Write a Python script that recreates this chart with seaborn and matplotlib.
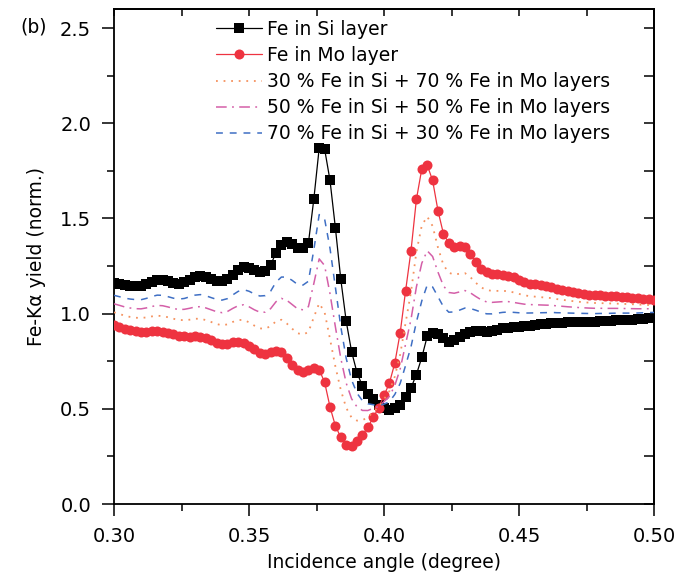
import numpy as np
import pandas as pd
import matplotlib
matplotlib.use("Agg")
import matplotlib.pyplot as plt
import seaborn as sns

# Incidence angles (degree), measured on a regular 0.002 deg grid
angle = np.linspace(0.30, 0.50, 101)

# Normalised Fe-Kα fluorescence yield, Fe located in the Si layer
fe_in_si = [
    1.163, 1.157, 1.150, 1.147, 1.145, 1.145, 1.155, 1.168, 1.178, 1.178,
    1.170, 1.162, 1.158, 1.165, 1.178, 1.190, 1.195, 1.190, 1.180, 1.172,
    1.170, 1.180, 1.205, 1.230, 1.245, 1.240, 1.228, 1.220, 1.225, 1.255,
    1.320, 1.360, 1.375, 1.365, 1.345, 1.345, 1.370, 1.600, 1.870, 1.865,
    1.700, 1.450, 1.180, 0.960, 0.800, 0.690, 0.620, 0.580, 0.550, 0.520,
    0.505, 0.495, 0.505, 0.520, 0.560, 0.610, 0.680, 0.770, 0.880, 0.900,
    0.895, 0.872, 0.852, 0.862, 0.875, 0.892, 0.903, 0.910, 0.910, 0.905,
    0.908, 0.915, 0.922, 0.926, 0.928, 0.930, 0.933, 0.937, 0.940, 0.943,
    0.946, 0.950, 0.951, 0.953, 0.954, 0.955, 0.956, 0.957, 0.958, 0.958,
    0.960, 0.961, 0.963, 0.965, 0.966, 0.967, 0.968, 0.970, 0.973, 0.976,
    0.978,
]

# Normalised Fe-Kα fluorescence yield, Fe located in the Mo layer
fe_in_mo = [
    0.940, 0.930, 0.920, 0.912, 0.907, 0.905, 0.905, 0.907, 0.908, 0.905,
    0.900, 0.892, 0.885, 0.880, 0.878, 0.880, 0.878, 0.870, 0.860, 0.848,
    0.840, 0.842, 0.850, 0.853, 0.848, 0.832, 0.812, 0.795, 0.790, 0.797,
    0.805, 0.800, 0.765, 0.730, 0.705, 0.695, 0.703, 0.715, 0.705, 0.640,
    0.510, 0.410, 0.350, 0.310, 0.305, 0.330, 0.363, 0.402, 0.455, 0.505,
    0.570, 0.635, 0.740, 0.900, 1.120, 1.330, 1.600, 1.760, 1.780, 1.700,
    1.540, 1.420, 1.370, 1.352, 1.353, 1.350, 1.315, 1.270, 1.235, 1.218,
    1.210, 1.207, 1.204, 1.200, 1.190, 1.178, 1.166, 1.158, 1.153, 1.148,
    1.143, 1.138, 1.130, 1.124, 1.118, 1.113, 1.108, 1.104, 1.100, 1.098,
    1.096, 1.094, 1.092, 1.090, 1.088, 1.086, 1.084, 1.081, 1.078, 1.075,
    1.072,
]

# Fraction of Fe sitting in the Si layer for the mixed distributions
si_fraction = [0.3, 0.5, 0.7]

series_labels = [
    "Fe in Si layer",
    "Fe in Mo layer",
    "30 % Fe in Si + 70 % Fe in Mo layers",
    "50 % Fe in Si + 50 % Fe in Mo layers",
    "70 % Fe in Si + 30 % Fe in Mo layers",
]

sns.set_style("ticks")
plt.rcParams["font.family"] = ["DejaVu Sans"]
for key in ("text.color", "axes.labelcolor", "xtick.color", "ytick.color",
            "axes.edgecolor"):
    plt.rcParams[key] = "black"

FS = 13.5
TFS = 14

fig = plt.figure(figsize=(6.81, 5.77), dpi=100)
ax = fig.add_axes([114 / 681, 1 - 504 / 577, 540 / 681, 495 / 577])

si = np.asarray(fe_in_si)
mo = np.asarray(fe_in_mo)

sns.lineplot(x=angle, y=si, ax=ax, color="black", lw=0.9, marker="s",
             markersize=6.8, markeredgewidth=0, label=series_labels[0],
             zorder=3)
sns.lineplot(x=angle, y=mo, ax=ax, color="#ee3340", lw=0.9, marker="o",
             markersize=7.2, markeredgewidth=0, label=series_labels[1],
             zorder=3)

mix_styles = [
    dict(color="#f5925f", ls=(0, (1.0, 3.2)), lw=1.3),
    dict(color="#d45fa8", ls=(0, (7, 3.5, 1.2, 3.5)), lw=1.1),
    dict(color="#3f6fc4", ls=(0, (4.5, 4.5)), lw=1.1),
]
for frac, lab, st in zip(si_fraction, series_labels[2:], mix_styles):
    mix = frac * si + (1 - frac) * mo
    sns.lineplot(x=angle, y=mix, ax=ax, label=lab, zorder=4, **st)

ax.set_xlim(0.30, 0.50)
ax.set_ylim(0.0, 2.6)
ax.set_xticks([0.30, 0.35, 0.40, 0.45, 0.50])
ax.set_xticklabels(["0.30", "0.35", "0.40", "0.45", "0.50"])
ax.set_yticks([0.0, 0.5, 1.0, 1.5, 2.0, 2.5])
ax.set_yticklabels(["0.0", "0.5", "1.0", "1.5", "2.0", "2.5"])
ax.set_xticks(np.arange(0.325, 0.5, 0.05), minor=True)
ax.set_yticks(np.arange(0.25, 2.6, 0.5), minor=True)

ax.tick_params(which="major", direction="out", length=8.5, width=1.1,
               labelsize=TFS, pad=8.0, top=False, right=False)
ax.tick_params(which="minor", direction="out", length=5, width=1.1,
               top=False, right=False)

for sp in ax.spines.values():
    sp.set_linewidth(1.3)
    sp.set_visible(True)

# inward ticks on the top and right frame
top = ax.secondary_xaxis("top")
top.set_xticks(np.arange(0.30, 0.5001, 0.025))
top.tick_params(direction="in", length=5, width=1.1, labeltop=False)
top.spines["top"].set_linewidth(1.3)
right = ax.secondary_yaxis("right")
right.set_yticks(np.arange(0.0, 2.6001, 0.25))
right.tick_params(direction="in", length=7, width=1.1, labelright=False)
right.spines["right"].set_linewidth(1.3)

ax.set_xlabel("Incidence angle (degree)", fontsize=FS, labelpad=5)
ax.set_ylabel("Fe-Kα yield (norm.)", fontsize=FS, labelpad=10)

leg = ax.legend(loc="upper left", bbox_to_anchor=(0.189, 0.978),
                frameon=False, fontsize=FS, handlelength=2.45,
                handletextpad=0.27, labelspacing=0.38, borderpad=0,
                borderaxespad=0)

fig.text(20 / 681, 1 - 27 / 577, "(b)", fontsize=FS, va="center",
         ha="left")

fig.savefig("out.png", dpi=100)
